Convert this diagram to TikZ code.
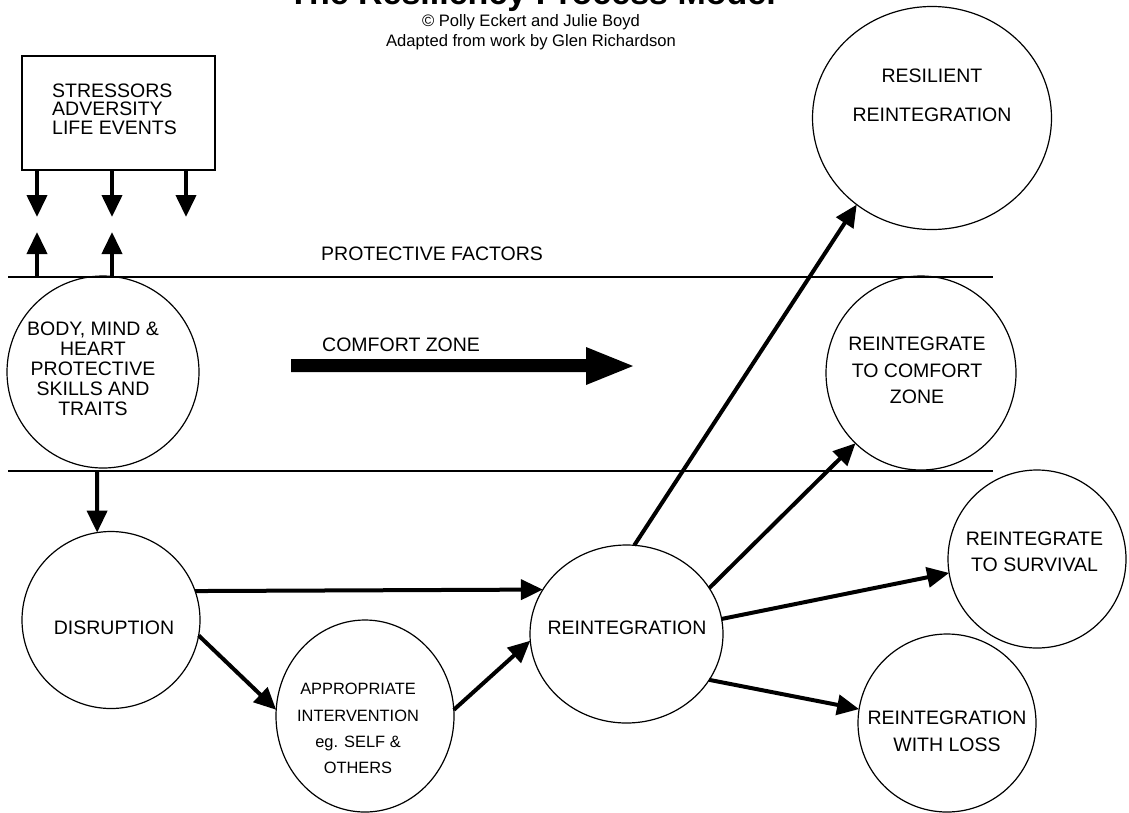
\documentclass[tikz,border=0pt]{standalone}
\usepackage{fontspec}
\setmainfont{Liberation Sans}
\usetikzlibrary{shapes.geometric,arrows.meta}
\begin{document}
\begin{tikzpicture}[x=1pt,y=-1pt,
  ring/.style={draw, line width=1.2pt, ellipse, inner sep=0pt, outer sep=0pt},
  lbl/.style={inner sep=0pt, align=center, font=\fontsize{19.5}{26.5}\selectfont},
  small/.style={inner sep=0pt, align=center, font=\fontsize{16.4}{26.3}\selectfont},
  arr/.style={line width=4pt, -{Triangle[length=22pt,width=20pt]}},
  rule/.style={line width=1.2pt}]
\useasboundingbox (0,0) rectangle (1129,812);
\clip (0,0) rectangle (1129,812);

% title
\node[anchor=base, inner sep=0pt, font=\fontsize{34}{40}\selectfont\bfseries] (title) at (532,4) {The Resiliency Process Model};
\node[anchor=base, inner sep=0pt, font=\fontsize{16.6}{20}\selectfont] (sub1) at (531,26.7) {© Polly Eckert and Julie Boyd};
\node[anchor=base, inner sep=0pt, font=\fontsize{16.6}{20}\selectfont] (sub2) at (531,46.7) {Adapted from work by Glen Richardson};

% stressor box
\node[draw, rule, minimum width=193pt, minimum height=114pt, inner sep=0pt, outer sep=0pt, anchor=north west] (box) at (22,56) {};
\node[inner sep=0pt, align=left, anchor=west, font=\fontsize{19.5}{18.7}\selectfont] (boxt) at (52,109) {STRESSORS\\ADVERSITY\\LIFE EVENTS};

% horizontal rules
\coordinate (l1a) at (8,277);
\coordinate (l1b) at (993,277);
\coordinate (l2a) at (8,471);
\coordinate (l2b) at (993,471);
\draw[rule] (l1a) -- (l1b);
\draw[rule] (l2a) -- (l2b);

\node[lbl, anchor=west] (prot) at (321,254) {PROTECTIVE FACTORS};
\node[lbl, anchor=west] (cz) at (322,345) {COMFORT ZONE};

% comfort zone block arrow
\fill (291,359) -- (586,359) -- (586,347) -- (633,366) -- (586,385) -- (586,372) -- (291,372) -- cycle;

% stressor arrows
\coordinate (s1) at (37,170);  \coordinate (e1) at (37,217);
\coordinate (s2) at (112,170); \coordinate (e2) at (112,217);
\coordinate (s3) at (186,170); \coordinate (e3) at (186,217);
\draw[arr] (s1) -- (e1);
\draw[arr] (s2) -- (e2);
\draw[arr] (s3) -- (e3);
\coordinate (u1) at (37,277);  \coordinate (t1) at (37,232);
\coordinate (u2) at (112,277); \coordinate (t2) at (112,232);
\draw[arr] (u1) -- (t1);
\draw[arr] (u2) -- (t2);

% circles
\node[ring, minimum width=192pt, minimum height=192pt] (body) at (103,372) {};
\node[ring, minimum width=178pt, minimum height=177pt] (dis) at (111,620) {};
\node[ring, minimum width=178pt, minimum height=192pt] (appr) at (365,716) {};
\node[ring, minimum width=193pt, minimum height=178pt] (reint) at (626.5,634) {};
\node[ring, minimum width=239pt, minimum height=223pt] (resil) at (932,118) {};
\node[ring, minimum width=190pt, minimum height=194pt] (comf) at (921,373) {};
\node[ring, minimum width=178pt, minimum height=178pt] (surv) at (1037,559) {};
\node[ring, minimum width=178pt, minimum height=178pt] (loss) at (947,723) {};

% circle texts
\node[lbl, font=\fontsize{19.5}{20}\selectfont] (bodyt) at (93,369) {BODY, MIND \&\\HEART\\PROTECTIVE\\SKILLS AND\\TRAITS};
\node[lbl] (dist) at (114,628) {DISRUPTION};
\node[small] (apprt) at (358,728.5) {APPROPRIATE\\INTERVENTION\\eg. SELF \&\\OTHERS};
\node[lbl] (reintt) at (627,628) {REINTEGRATION};
\node[lbl, font=\fontsize{19.5}{39}\selectfont] (resilt) at (932,95.5) {RESILIENT\\REINTEGRATION};
\node[lbl] (comft) at (917,370.5) {REINTEGRATE\\TO COMFORT\\ZONE};
\node[lbl] (survt) at (1034.5,552) {REINTEGRATE\\TO SURVIVAL};
\node[lbl, font=\fontsize{19.5}{27}\selectfont] (losst) at (947,731.5) {REINTEGRATION\\WITH LOSS};

% connectors
\coordinate (bd) at (97,471);
\draw[arr] (bd) -- (dis.99);
\draw[arr] (dis.19) -- (reint.152);
\draw[arr] (dis.-10) -- (appr.176);
\draw[arr] (appr.4) -- (reint.184);
\draw[arr] (reint.85) -- (resil.229);
\draw[arr] (reint.29) -- (comf.227);
\draw[arr] (reint.9) -- (surv.189);
\draw[arr] (reint.-29) -- (loss.171);
\end{tikzpicture}
\end{document}
